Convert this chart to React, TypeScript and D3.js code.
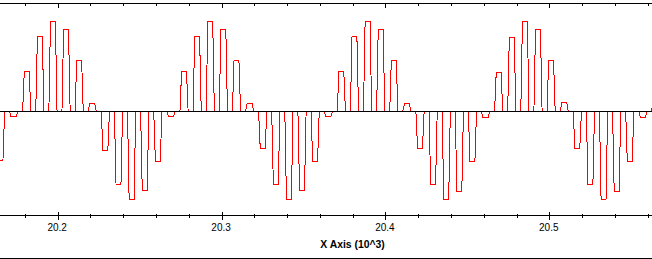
import React from "react";
import * as d3 from "d3";

// Start time (raw x units) of each held pulse
const pulseStarts: number[] = [
  20162.6, 20170.6, 20178.6, 20186.6, 20194.6, 20202.6, 20210.6, 20218.6, 20226.6, 20234.6,
  20242.6, 20250.6, 20258.6, 20266.6, 20274.6, 20282.6, 20290.6, 20298.6, 20306.6, 20314.6,
  20322.6, 20330.6, 20338.6, 20346.6, 20354.6, 20362.6, 20370.6, 20378.6, 20386.6, 20394.6,
  20402.6, 20410.6, 20418.6, 20426.6, 20434.6, 20442.6, 20450.6, 20458.6, 20466.6, 20474.6,
  20482.6, 20490.6, 20498.6, 20506.6, 20514.6, 20522.6, 20530.6, 20538.6, 20546.6, 20554.6,
  20562.6,
];

// Held amplitude of each pulse
const pulseValues: number[] = [
  -0.54, -0.06, 0.44, 0.83, 1.0, 0.91, 0.57, 0.09, -0.43, -0.81,
  -0.98, -0.88, -0.55, -0.06, 0.44, 0.83, 1.0, 0.91, 0.57, 0.09,
  -0.41, -0.81, -0.98, -0.88, -0.55, -0.06, 0.44, 0.83, 1.0, 0.91,
  0.57, 0.09, -0.41, -0.81, -0.98, -0.89, -0.56, -0.07, 0.43, 0.82,
  1.0, 0.91, 0.57, 0.1, -0.41, -0.81, -0.98, -0.89, -0.56, -0.07,
  0.43,
];

// Samples held per pulse (rise at +1, hold to +4, back to zero at +5)
const holdOffsets: number[] = [0, 1, 4, 5];

const majorTicks: number[] = [20200, 20300, 20400, 20500];
const minorTicks: number[] = [20180, 20220, 20240, 20260, 20280, 20320, 20340, 20360, 20380, 20420, 20440, 20460, 20480, 20520, 20540, 20560];
const tickLabels: string[] = ["20.2", "20.3", "20.4", "20.5"];
const xTitle = "X Axis (10^3)";

const W = 652;
const H = 259;

export default function App() {
  const x = d3.scaleLinear().domain([20200, 20500]).range([57.7, 549.3]);
  const y = d3.scaleLinear().domain([0, 1]).range([111.5, 21.5]);

  const pts: [number, number][] = [];
  pulseStarts.forEach((t, i) => {
    const a = pulseValues[i];
    holdOffsets.forEach((o, j) => {
      pts.push([t + o, j === 0 || j === 3 ? 0 : a]);
    });
  });

  const line = d3
    .line<[number, number]>()
    .x((d) => x(d[0]))
    .y((d) => y(d[1]));

  const axisY = 215.5;
  const topY = 3.5;
  const font = "'Liberation Sans', Arial, sans-serif";

  return (
    <svg
      width={W}
      height={H}
      style={{ position: "absolute", left: 0, top: 0, background: "#fff" }}
    >
      <defs>
        <clipPath id="plot">
          <rect x={0} y={3} width={W} height={212} />
        </clipPath>
      </defs>
      <rect x={0} y={0} width={W} height={H} fill="#fff" />
      <g clipPath="url(#plot)">
        <path
          d={line(pts) || ""}
          fill="none"
          stroke="#ff0000"
          strokeWidth={1}
          shapeRendering="crispEdges"
        />
      </g>
      {/* zero reference line */}
      <line x1={0} x2={W} y1={y(0)} y2={y(0)} stroke="#000" strokeWidth={1} shapeRendering="crispEdges" />
      {/* top axis */}
      <line x1={0} x2={W} y1={topY} y2={topY} stroke="#000" strokeWidth={1} shapeRendering="crispEdges" />
      {/* bottom axis */}
      <line x1={0} x2={W} y1={axisY} y2={axisY} stroke="#000" strokeWidth={1} shapeRendering="crispEdges" />
      {/* bottom frame */}
      <line x1={0} x2={W} y1={258.5} y2={258.5} stroke="#000" strokeWidth={1} shapeRendering="crispEdges" />
      {majorTicks.map((t) => (
        <g key={"M" + t}>
          <line x1={Math.round(x(t)) + 0.5} x2={Math.round(x(t)) + 0.5} y1={axisY - 4} y2={axisY + 4} stroke="#000" shapeRendering="crispEdges" />
          <line x1={Math.round(x(t)) + 0.5} x2={Math.round(x(t)) + 0.5} y1={topY} y2={topY + 4} stroke="#000" shapeRendering="crispEdges" />
        </g>
      ))}
      {minorTicks.map((t) => (
        <g key={"m" + t}>
          <line x1={Math.round(x(t)) + 0.5} x2={Math.round(x(t)) + 0.5} y1={axisY - 2} y2={axisY + 2} stroke="#000" shapeRendering="crispEdges" />
          <line x1={Math.round(x(t)) + 0.5} x2={Math.round(x(t)) + 0.5} y1={topY} y2={topY + 2} stroke="#000" shapeRendering="crispEdges" />
        </g>
      ))}
      {majorTicks.map((t, i) => (
        <text
          key={"l" + t}
          x={x(t) - 0.5}
          y={231}
          textAnchor="middle"
          fontFamily={font}
          fontSize={10}
          fill="#000"
        >
          {tickLabels[i]}
        </text>
      ))}
      <text
        x={352.5}
        y={248}
        textAnchor="middle"
        fontFamily={font}
        fontSize={10.4}
        fontWeight="bold"
        fill="#000"
      >
        {xTitle}
      </text>
    </svg>
  );
}
